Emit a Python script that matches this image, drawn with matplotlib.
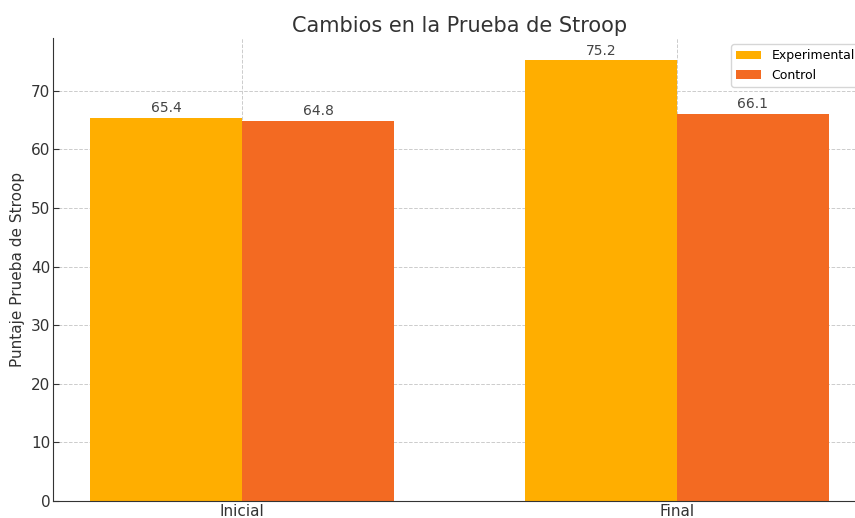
import matplotlib
matplotlib.use("Agg")
import matplotlib.pyplot as plt
import numpy as np

categories = ["Inicial", "Final"]
experimental = [65.4, 75.2]
control = [64.8, 66.1]
series_names = ["Experimental", "Control"]

fig = plt.figure(figsize=(8.55, 5.18), dpi=100)
ax = fig.add_axes([0.062, 0.0328, 0.9509, 0.8938])

x = np.arange(len(categories))
w = 0.35
b1 = ax.bar(x - w/2, experimental, w, color="#FFAE00", label=series_names[0], zorder=2)
b2 = ax.bar(x + w/2, control, w, color="#F36A22", label=series_names[1], zorder=2)

for bars in (b1, b2):
    for r in bars:
        ax.annotate(f"{r.get_height():.1f}", (r.get_x() + r.get_width()/2, r.get_height()),
                    xytext=(0, 2), textcoords="offset points", ha="center", va="bottom",
                    fontsize=10, color="#444444")

ax.set_xticks(x)
ax.set_xticklabels(categories, fontsize=11, color="#333333")
ax.set_ylim(0, 79.0)
ax.set_yticks(range(0, 80, 10))
ax.tick_params(axis="both", direction="in", length=4, pad=2, colors="#333333")
ax.tick_params(axis="y", labelsize=11)
ax.set_ylabel("Puntaje Prueba de Stroop", fontsize=11, color="#333333", labelpad=4)
ax.set_title("Cambios en la Prueba de Stroop", fontsize=15, color="#333333", pad=4)
ax.grid(True, linestyle="--", color="#cccccc", linewidth=0.7, zorder=0)
ax.set_axisbelow(True)
for s in ["top", "right"]:
    ax.spines[s].set_visible(False)
ax.spines["left"].set_color("#333333")
ax.spines["bottom"].set_color("#333333")
ax.legend(loc="upper right", fontsize=9, bbox_to_anchor=(1.0, 1.0))

fig.savefig("out.png", dpi=100)
